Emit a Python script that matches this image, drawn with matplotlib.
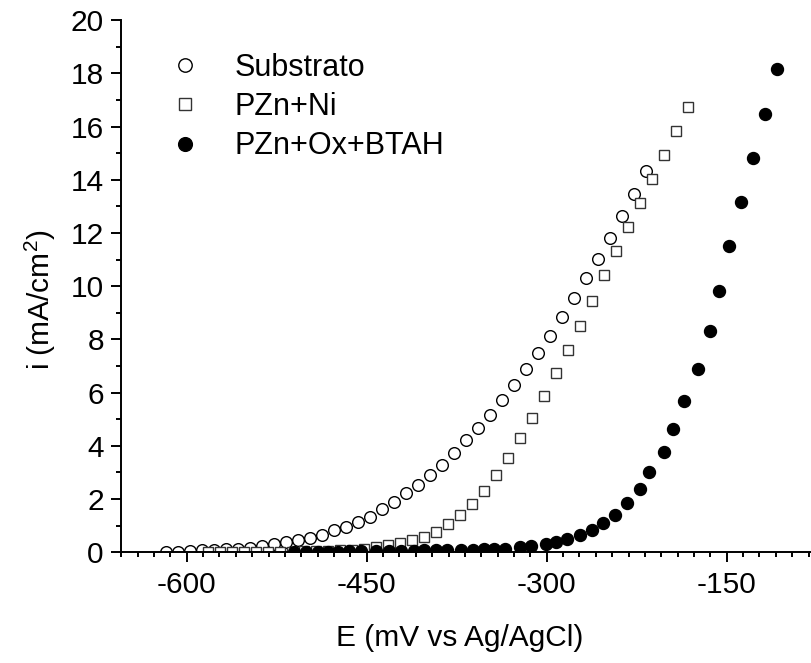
import matplotlib
matplotlib.use('Agg')
import matplotlib.pyplot as plt
from matplotlib.ticker import MultipleLocator, AutoMinorLocator

plt.rcParams['font.family'] = ['Liberation Sans', 'DejaVu Sans']
plt.rcParams['mathtext.default'] = 'regular'
plt.rcParams['axes.unicode_minus'] = False

#### Substrato (open circles)
e_sub = [-617.5, -607.5, -597.5, -587.5, -577.5, -567.5, -557.5, -547.5, -537.5, -527.5,
         -517.5, -507.5, -497.5, -487.5, -477.5, -467.5, -457.5, -447.5, -437.5, -427.5,
         -417.5, -407.5, -397.5, -387.5, -377.5, -367.5, -357.5, -347.5, -337.5, -327.5,
         -317.5, -307.5, -297.5, -287.5, -277.5, -267.5, -257.5, -247.5, -237.5, -227.5,
         -217.5]
i_sub = [0.02, 0.02, 0.05, 0.07, 0.10, 0.11, 0.14, 0.18, 0.24, 0.31,
         0.38, 0.45, 0.55, 0.65, 0.82, 0.94, 1.14, 1.34, 1.62, 1.89,
         2.23, 2.54, 2.90, 3.30, 3.72, 4.21, 4.66, 5.18, 5.72, 6.29,
         6.88, 7.49, 8.15, 8.84, 9.55, 10.31, 11.03, 11.83, 12.63, 13.46,
         14.34]

#### PZn+Ni (open squares)
e_ni = [-582.3, -572.3, -562.3, -552.3, -542.3, -532.3, -522.3, -512.3, -502.3, -492.3,
        -482.3, -472.3, -462.3, -452.3, -442.3, -432.3, -422.3, -412.3, -402.3, -392.3,
        -382.3, -372.3, -362.3, -352.3, -342.3, -332.3, -322.3, -312.3, -302.3, -292.3,
        -282.3, -272.3, -262.3, -252.3, -242.3, -232.3, -222.3, -212.3, -202.3, -192.3,
        -182.3]
i_ni = [0.00, 0.00, 0.01, 0.01, 0.02, 0.02, 0.03, 0.03, 0.04, 0.04,
        0.05, 0.07, 0.09, 0.13, 0.19, 0.26, 0.35, 0.45, 0.59, 0.78,
        1.06, 1.41, 1.81, 2.31, 2.90, 3.55, 4.28, 5.04, 5.86, 6.73,
        7.61, 8.50, 9.45, 10.42, 11.32, 12.23, 13.14, 14.05, 14.94, 15.85,
        16.75]

#### PZn+Ox+BTAH (filled circles)
e_btah = [-510.6, -500.6, -490.8, -482.5, -474.2, -464.5, -454.8, -442.3, -431.2, -421.4,
          -410.8, -402.0, -392.3, -383.3, -371.4, -361.7, -352.5, -343.7, -334.5, -322.3,
          -313.1, -300.6, -292.3, -283.3, -272.0, -262.5, -253.3, -242.8, -233.3, -222.0,
          -214.5, -202.5, -194.5, -185.3, -173.9, -163.9, -156.4, -148.1, -138.1, -128.1,
          -118.1, -108.1]
i_btah = [0.02, 0.03, 0.03, 0.03, 0.03, 0.04, 0.04, 0.04, 0.04, 0.05,
          0.05, 0.07, 0.07, 0.07, 0.10, 0.10, 0.12, 0.12, 0.12, 0.21,
          0.24, 0.31, 0.40, 0.49, 0.65, 0.84, 1.12, 1.40, 1.87, 2.38,
          3.02, 3.77, 4.64, 5.67, 6.90, 8.31, 9.82, 11.52, 13.18, 14.84,
          16.49, 18.16]

W, H = 812, 663
fig = plt.figure(figsize=(W/100, H/100), dpi=100)
# axes runs past the right edge of the figure, like the cropped original
ax = fig.add_axes([120.7/W, (H-552.3)/H, 702/W, 532/H])

ax.plot(e_sub, i_sub, ls='none', marker='o', ms=8.4, mfc='white', mec='black', mew=1.0, label='Substrato')
ax.plot(e_ni, i_ni, ls='none', marker='s', ms=7.3, mfc='white', mec='#333333', mew=1.0, label='PZn+Ni')
ax.plot(e_btah, i_btah, ls='none', marker='o', ms=8.6, mfc='black', mec='black', mew=1.0, label='PZn+Ox+BTAH')

ax.set_xlim(-655, -70)
ax.set_ylim(0, 20)
ax.spines['top'].set_visible(False)
ax.spines['right'].set_visible(False)
for s in ['left', 'bottom']:
    ax.spines[s].set_linewidth(1.4)

ax.xaxis.set_major_locator(MultipleLocator(150))
ax.xaxis.set_minor_locator(AutoMinorLocator(11))
ax.yaxis.set_major_locator(MultipleLocator(2))
ax.yaxis.set_minor_locator(AutoMinorLocator(2))
ax.tick_params(which='major', direction='out', length=7.2, width=1.4, labelsize=21.5)
ax.tick_params(which='minor', direction='out', length=3.6, width=1.4)
ax.tick_params(axis='x', which='major', pad=6)
ax.tick_params(axis='y', which='major', pad=5)

ax.set_xlabel('E (mV vs Ag/AgCl)', fontsize=21.5)
ax.set_ylabel('i (mA/cm$^2$)', fontsize=21.5)
ax.xaxis.set_label_coords((460-120.7)/702, (552.3-624)/532)
ax.yaxis.set_label_coords((58-120.7)/702, (552.3-300)/532)

ax.legend(loc='upper left', bbox_to_anchor=(169.7/W, 1-53/H), bbox_transform=fig.transFigure,
          frameon=False, fontsize=22, numpoints=1, handlelength=1.0, handletextpad=1.13,
          borderpad=0, borderaxespad=0, labelspacing=0.3, markerscale=1.15)

fig.savefig('out.png', dpi=100)
